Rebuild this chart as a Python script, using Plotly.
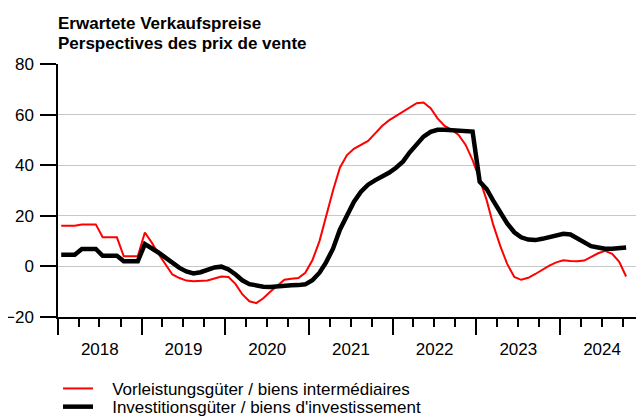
import pandas as pd
import plotly.graph_objects as go

# Monthly observations, Jan 2018 .. Oct 2024 (plotted mid-month)
months = pd.date_range("2018-01-01", periods=82, freq="MS") + pd.Timedelta(days=14)

vorleistung = [
    16.1, 16.1, 16.1, 16.6, 16.6, 16.6, 11.5, 11.5, 11.5, 4.0, 4.0, 4.0,          # 2018
    13.4, 9.3, 5.0, 0.9, -3.2, -4.6, -5.6, -5.9, -5.8, -5.6, -4.8, -4.0,          # 2019
    -4.2, -7.0, -11.0, -13.8, -14.5, -12.6, -10.0, -7.5, -5.3, -4.9, -4.6, -2.5,  # 2020
    2.4, 10.0, 20.0, 30.0, 39.0, 44.0, 46.5, 48.0, 49.6, 52.5, 55.5, 57.7,        # 2021
    59.5, 61.2, 62.9, 64.5, 64.8, 62.5, 58.5, 55.5, 54.0, 52.0, 48.0, 42.0,       # 2022
    34.5, 26.0, 16.5, 8.0, 1.0, -4.2, -5.3, -4.5, -3.0, -1.2, 0.3, 1.6,           # 2023
    2.4, 2.1, 2.0, 2.3, 3.8, 5.2, 6.2, 5.0, 1.8, -4.0,                            # 2024
]

investition = [
    4.6, 4.6, 4.6, 6.9, 6.9, 6.9, 4.2, 4.2, 4.2, 2.0, 2.0, 2.0,                   # 2018
    8.8, 7.2, 5.5, 3.5, 1.4, -0.6, -2.0, -2.8, -2.3, -1.2, -0.4, -0.1,            # 2019
    -1.2, -3.2, -5.5, -7.0, -7.7, -8.0, -8.1, -7.8, -7.6, -7.5, -7.4, -7.1,       # 2020
    -5.5, -2.5, 1.5, 7.0, 14.5, 20.5, 25.5, 29.5, 32.3, 34.0, 35.5, 37.0,         # 2021
    39.0, 41.5, 45.0, 48.5, 51.3, 53.2, 54.0, 54.0, 53.8, 53.6, 53.5, 53.3,       # 2022
    33.5, 30.5, 26.0, 21.5, 17.0, 13.5, 11.5, 10.6, 10.4, 10.9, 11.7, 12.5,       # 2023
    12.9, 12.6, 11.0, 9.2, 8.0, 7.5, 7.0, 7.0, 7.1, 7.5,                          # 2024
]

series_names = [
    "Vorleistungsgüter / biens intermédiaires",
    "Investitionsgüter / biens d'investissement",
]
title_lines = ["Erwartete Verkaufspreise", "Perspectives des prix de vente"]
y_ticks = [-20, 0, 20, 40, 60, 80]

FONT = "Liberation Sans, Arial, Helvetica, sans-serif"
FS = 17
GAP = "\u00a0\u00a0\u00a0"  # widens the space between legend line and label

fig = go.Figure()
fig.add_trace(go.Scatter(x=months, y=vorleistung, mode="lines", name=GAP + series_names[0],
                         line=dict(color="#ff0000", width=2), legend="legend"))
fig.add_trace(go.Scatter(x=months, y=investition, mode="lines", name=GAP + series_names[1],
                         line=dict(color="#000000", width=4.5), legend="legend2"))

legend_common = dict(xanchor="left", yanchor="top", orientation="v",
                     bgcolor="rgba(0,0,0,0)", font=dict(size=FS))

# the page body adds an 8px offset on the left and top, so the figure is 8px smaller
fig.update_layout(
    width=636, height=410,
    margin=dict(l=50, r=0, t=56, b=101, autoexpand=False),
    paper_bgcolor="white", plot_bgcolor="white",
    font=dict(family=FONT, size=FS, color="#000000"),
    showlegend=True,
    legend=dict(x=0.0, y=-0.213, **legend_common),
    legend2=dict(x=0.0, y=-0.285, **legend_common),
    hovermode=False,
)

fig.update_xaxes(
    type="date",
    range=["2018-01-01", "2025-01-01"],
    automargin=False,
    showgrid=False, zeroline=False,
    showline=True, linecolor="#000000", linewidth=1.5,
    ticks="outside", ticklen=16, tickwidth=1.5, tickcolor="#000000",
    dtick="M12", tick0="2018-01-01", tickformat="%Y", ticklabelmode="period",
    tickfont=dict(size=FS),
    minor=dict(dtick="M3", ticks="outside", ticklen=8, tickwidth=1.5,
               tickcolor="#000000", showgrid=False),
)

fig.update_yaxes(
    range=[-20, 80],
    automargin=False,
    tickvals=y_ticks,
    showgrid=True, gridcolor="#c8c8c8", gridwidth=1,
    zeroline=False,
    showline=True, linecolor="#000000", linewidth=1.5,
    ticks="outside", ticklen=16, tickwidth=1.5, tickcolor="#000000",
    ticklabelstandoff=3,
    tickfont=dict(size=FS),
)

for i, line in enumerate(title_lines):
    fig.add_annotation(text=f"<b>{line}</b>", xref="paper", yref="paper",
                       x=0.0, y=1, xshift=-2, yshift=41 - 20.5 * i,
                       xanchor="left", yanchor="middle", showarrow=False,
                       font=dict(size=FS, family=FONT, color="#000000"))

fig.write_html("out.html")
